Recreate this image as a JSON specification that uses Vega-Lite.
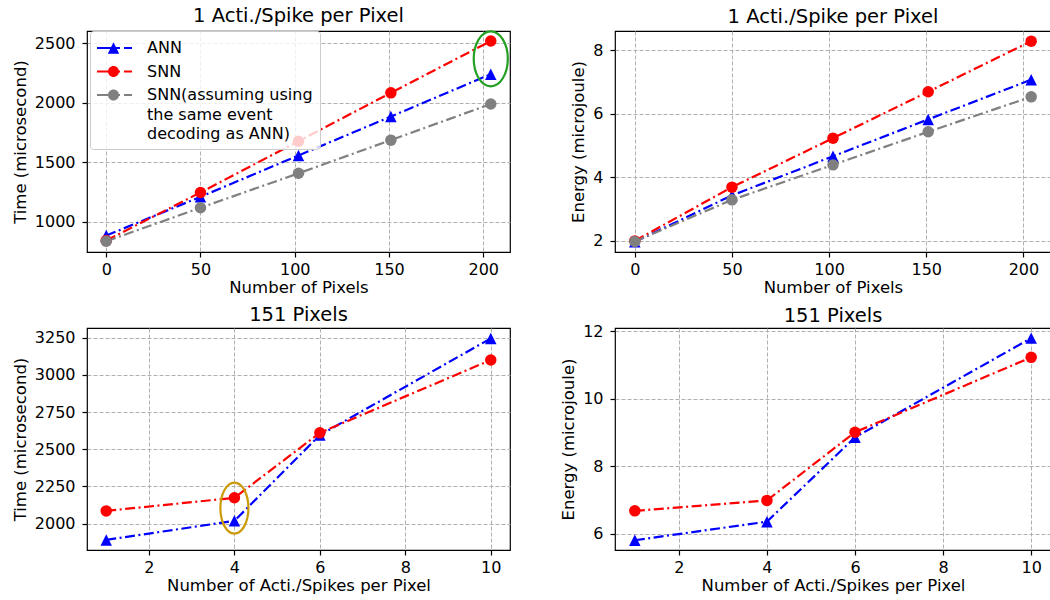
{
  "$schema": "https://vega.github.io/schema/vega-lite/v6.json",
  "padding": {"left": 11, "top": 5, "right": 0, "bottom": 0},
  "bounds": "flush",
  "columns": 2,
  "spacing": {"row": 76, "column": 105},
  "config": {
    "font": "DejaVu Sans",
    "view": {"stroke": "black", "strokeWidth": 1.2},
    "axis": {"domain": false, "grid": true, "gridColor": "#b0b0b0", "gridDash": [4, 2], "gridWidth": 1, "tickColor": "black", "tickSize": 5, "tickWidth": 1.2, "labelFontSize": 16, "labelColor": "black", "titleFontSize": 16.5, "titleFontWeight": "normal", "titleColor": "black", "labelPadding": 4},
    "axisY": {"labelPadding": 7, "titlePadding": 6, "labelFontSize": 16},
    "axisX": {"titlePadding": 2, "labelFontSize": 16},
    "title": {"fontSize": 19.5, "fontWeight": "normal", "color": "black", "frame": "group"}
  },
  "datasets": {
    "pix": [
      {"series": "ANN", "pixels": 0, "time": 883, "energy": 1.97},
      {"series": "ANN", "pixels": 50, "time": 1209, "energy": 3.43},
      {"series": "ANN", "pixels": 102, "time": 1557, "energy": 4.66},
      {"series": "ANN", "pixels": 151, "time": 1884, "energy": 5.82},
      {"series": "ANN", "pixels": 204, "time": 2241, "energy": 7.07},
      {"series": "SNN", "pixels": 0, "time": 841, "energy": 2.0},
      {"series": "SNN", "pixels": 50, "time": 1246, "energy": 3.69},
      {"series": "SNN", "pixels": 102, "time": 1677, "energy": 5.23},
      {"series": "SNN", "pixels": 151, "time": 2084, "energy": 6.69},
      {"series": "SNN", "pixels": 204, "time": 2520, "energy": 8.28},
      {"series": "SNN(assuming using the same event decoding as ANN)", "pixels": 0, "time": 835, "energy": 1.98},
      {"series": "SNN(assuming using the same event decoding as ANN)", "pixels": 50, "time": 1117, "energy": 3.29},
      {"series": "SNN(assuming using the same event decoding as ANN)", "pixels": 102, "time": 1407, "energy": 4.39},
      {"series": "SNN(assuming using the same event decoding as ANN)", "pixels": 151, "time": 1686, "energy": 5.43},
      {"series": "SNN(assuming using the same event decoding as ANN)", "pixels": 204, "time": 1990, "energy": 6.53}
    ],
    "spk": [
      {"series": "ANN", "spikes": 1, "time": 1890, "energy": 5.81},
      {"series": "ANN", "spikes": 4, "time": 2018, "energy": 6.36},
      {"series": "ANN", "spikes": 6, "time": 2595, "energy": 8.86},
      {"series": "ANN", "spikes": 10, "time": 3245, "energy": 11.8},
      {"series": "SNN", "spikes": 1, "time": 2085, "energy": 6.68},
      {"series": "SNN", "spikes": 4, "time": 2173, "energy": 6.99},
      {"series": "SNN", "spikes": 6, "time": 2610, "energy": 9.01},
      {"series": "SNN", "spikes": 10, "time": 3100, "energy": 11.23}
    ]
  },
  "resolve": {"scale": {"color": "independent", "shape": "independent", "stroke": "independent"}, "legend": {"color": "independent", "shape": "independent", "stroke": "independent"}},
  "concat": [
    {
      "width": 423, "height": 221,
      "title": {"text": "1 Acti./Spike per Pixel", "offset": 0},
      "data": {"name": "pix"},
      "resolve": {"scale": {"color": "independent", "shape": "independent", "stroke": "independent"}, "legend": {"color": "independent", "shape": "independent", "stroke": "independent"}},
      "encoding": {
        "x": {"field": "pixels", "type": "quantitative", "title": "Number of Pixels", "scale": {"domain": [-10.2, 214.2], "nice": false, "zero": false}, "axis": {"values": [0, 50, 100, 150, 200]}},
        "y": {"field": "time", "type": "quantitative", "title": "Time (microsecond)", "scale": {"domain": [745, 2604], "nice": false, "zero": false}, "axis": {"values": [1000, 1500, 2000, 2500], "format": "d"}}
      },
      "layer": [
        {"mark": {"type": "line", "strokeWidth": 2.2, "strokeDash": [10, 3.5, 2, 3.5]},
         "encoding": {"stroke": {"field": "series", "type": "nominal", "scale": {"domain": ["ANN", "SNN", "SNN(assuming using the same event decoding as ANN)"], "range": ["#0000ff", "#ff0000", "#808080"]}, "legend": null}}},
        {"mark": {"type": "point", "filled": true, "opacity": 1, "size": 132},
         "encoding": {
           "shape": {"field": "series", "type": "nominal", "scale": {"domain": ["ANN", "SNN", "SNN(assuming using the same event decoding as ANN)"], "range": ["M0,-1L1,1L-1,1Z", "circle", "circle"]}, "legend": null},
           "color": {"field": "series", "type": "nominal", "scale": {"domain": ["ANN", "SNN", "SNN(assuming using the same event decoding as ANN)"], "range": ["#0000ff", "#ff0000", "#808080"]}, "legend": null}
         }},
        {"data": {"values": [{"x": 204, "y": 2370}]},
         "mark": {"type": "point", "shape": "M-0.62,0A0.62,1 0 1,1 0.62,0A0.62,1 0 1,1 -0.62,0Z", "filled": false, "stroke": "#22a022", "strokeWidth": 2.2, "size": 3025, "opacity": 1},
         "encoding": {"x": {"field": "x", "type": "quantitative"}, "y": {"field": "y", "type": "quantitative"}}},
        {"mark": {"type": "point", "filled": true, "opacity": 1, "size": 0},
         "encoding": {
           "shape": {"field": "series", "type": "nominal", "scale": {"domain": ["ANN", "SNN", "SNN(assuming using the same event decoding as ANN)"], "range": [
             "M-1,-0.11H1.3V0.11H-1Z M1.7,-0.11H2.5V0.11H1.7Z M0.65,-0.575L1.225,0.575L0.075,0.575Z",
             "M-1,-0.11H1.3V0.11H-1Z M1.7,-0.11H2.5V0.11H1.7Z M0.1,0A0.55,0.55 0 1,1 1.2,0A0.55,0.55 0 1,1 0.1,0Z",
             "M-1,-0.11H1.3V0.11H-1Z M1.7,-0.11H2.5V0.11H1.7Z M0.1,0A0.55,0.55 0 1,1 1.2,0A0.55,0.55 0 1,1 0.1,0Z"]}},
           "color": {"field": "series", "type": "nominal", "scale": {"domain": ["ANN", "SNN", "SNN(assuming using the same event decoding as ANN)"], "range": ["#0000ff", "#ff0000", "#808080"]},
             "legend": {"orient": "none", "legendX": 3, "legendY": 0, "title": null, "symbolSize": 400, "symbolStrokeWidth": 0, "symbolOpacity": 1, "labelFontSize": 16, "labelColor": "black", "labelOffset": 30, "padding": 7, "rowPadding": 5.5, "fillColor": "rgba(255,255,255,0.8)", "strokeColor": "#cccccc", "cornerRadius": 3, "labelBaseline": "top", "labelLimit": 400,
               "labelExpr": "datum.label === 'ANN' || datum.label === 'SNN' ? datum.label : ['SNN(assuming using', 'the same event', 'decoding as ANN)']",
               "encode": {
                 "symbols": {"update": {"strokeWidth": {"value": 0}}},
                 "labels": {"update": {"dy": {"value": -8}, "lineHeight": {"value": 19.5}}}
               }}}
         }}
      ]
    },
    {
      "width": 436, "height": 221,
      "title": {"text": "1 Acti./Spike per Pixel", "offset": 4},
      "data": {"name": "pix"},
      "encoding": {
        "x": {"field": "pixels", "type": "quantitative", "title": "Number of Pixels", "scale": {"domain": [-10.2, 214.2], "nice": false, "zero": false}, "axis": {"values": [0, 50, 100, 150, 200]}},
        "y": {"field": "energy", "type": "quantitative", "title": "Energy (microjoule)", "scale": {"domain": [1.65, 8.6], "nice": false, "zero": false}, "axis": {"values": [2, 4, 6, 8]}}
      },
      "layer": [
        {"mark": {"type": "line", "strokeWidth": 2.2, "strokeDash": [10, 3.5, 2, 3.5]},
         "encoding": {"stroke": {"field": "series", "type": "nominal", "scale": {"domain": ["ANN", "SNN", "SNN(assuming using the same event decoding as ANN)"], "range": ["#0000ff", "#ff0000", "#808080"]}, "legend": null}}},
        {"mark": {"type": "point", "filled": true, "opacity": 1, "size": 132},
         "encoding": {
           "shape": {"field": "series", "type": "nominal", "scale": {"domain": ["ANN", "SNN", "SNN(assuming using the same event decoding as ANN)"], "range": ["M0,-1L1,1L-1,1Z", "circle", "circle"]}, "legend": null},
           "color": {"field": "series", "type": "nominal", "scale": {"domain": ["ANN", "SNN", "SNN(assuming using the same event decoding as ANN)"], "range": ["#0000ff", "#ff0000", "#808080"]}, "legend": null}
         }}
      ]
    },
    {
      "width": 423, "height": 222,
      "title": {"text": "151 Pixels", "offset": 3},
      "data": {"name": "spk"},
      "encoding": {
        "x": {"field": "spikes", "type": "quantitative", "title": "Number of Acti./Spikes per Pixel", "scale": {"domain": [0.55, 10.45], "nice": false, "zero": false}, "axis": {"values": [2, 4, 6, 8, 10]}},
        "y": {"field": "time", "type": "quantitative", "title": "Time (microsecond)", "scale": {"domain": [1822, 3315], "nice": false, "zero": false}, "axis": {"values": [2000, 2250, 2500, 2750, 3000, 3250], "format": "d"}}
      },
      "layer": [
        {"mark": {"type": "line", "strokeWidth": 2.2, "strokeDash": [10, 3.5, 2, 3.5]},
         "encoding": {"stroke": {"field": "series", "type": "nominal", "scale": {"domain": ["ANN", "SNN"], "range": ["#0000ff", "#ff0000"]}, "legend": null}}},
        {"mark": {"type": "point", "filled": true, "opacity": 1, "size": 132},
         "encoding": {
           "shape": {"field": "series", "type": "nominal", "scale": {"domain": ["ANN", "SNN"], "range": ["M0,-1L1,1L-1,1Z", "circle"]}, "legend": null},
           "color": {"field": "series", "type": "nominal", "scale": {"domain": ["ANN", "SNN"], "range": ["#0000ff", "#ff0000"]}, "legend": null}
         }},
        {"data": {"values": [{"x": 4, "y": 2104}]},
         "mark": {"type": "point", "shape": "M-0.55,0A0.55,1 0 1,1 0.55,0A0.55,1 0 1,1 -0.55,0Z", "filled": false, "stroke": "#cc9a06", "strokeWidth": 2.2, "size": 2601, "opacity": 1},
         "encoding": {"x": {"field": "x", "type": "quantitative"}, "y": {"field": "y", "type": "quantitative"}}}
      ]
    },
    {
      "width": 436, "height": 222,
      "title": {"text": "151 Pixels", "offset": -3},
      "data": {"name": "spk"},
      "encoding": {
        "x": {"field": "spikes", "type": "quantitative", "title": "Number of Acti./Spikes per Pixel", "scale": {"domain": [0.55, 10.45], "nice": false, "zero": false}, "axis": {"values": [2, 4, 6, 8, 10]}},
        "y": {"field": "energy", "type": "quantitative", "title": "Energy (microjoule)", "scale": {"domain": [5.52, 12.1], "nice": false, "zero": false}, "axis": {"values": [6, 8, 10, 12]}}
      },
      "layer": [
        {"mark": {"type": "line", "strokeWidth": 2.2, "strokeDash": [10, 3.5, 2, 3.5]},
         "encoding": {"stroke": {"field": "series", "type": "nominal", "scale": {"domain": ["ANN", "SNN"], "range": ["#0000ff", "#ff0000"]}, "legend": null}}},
        {"mark": {"type": "point", "filled": true, "opacity": 1, "size": 132},
         "encoding": {
           "shape": {"field": "series", "type": "nominal", "scale": {"domain": ["ANN", "SNN"], "range": ["M0,-1L1,1L-1,1Z", "circle"]}, "legend": null},
           "color": {"field": "series", "type": "nominal", "scale": {"domain": ["ANN", "SNN"], "range": ["#0000ff", "#ff0000"]}, "legend": null}
         }}
      ]
    }
  ]
}
